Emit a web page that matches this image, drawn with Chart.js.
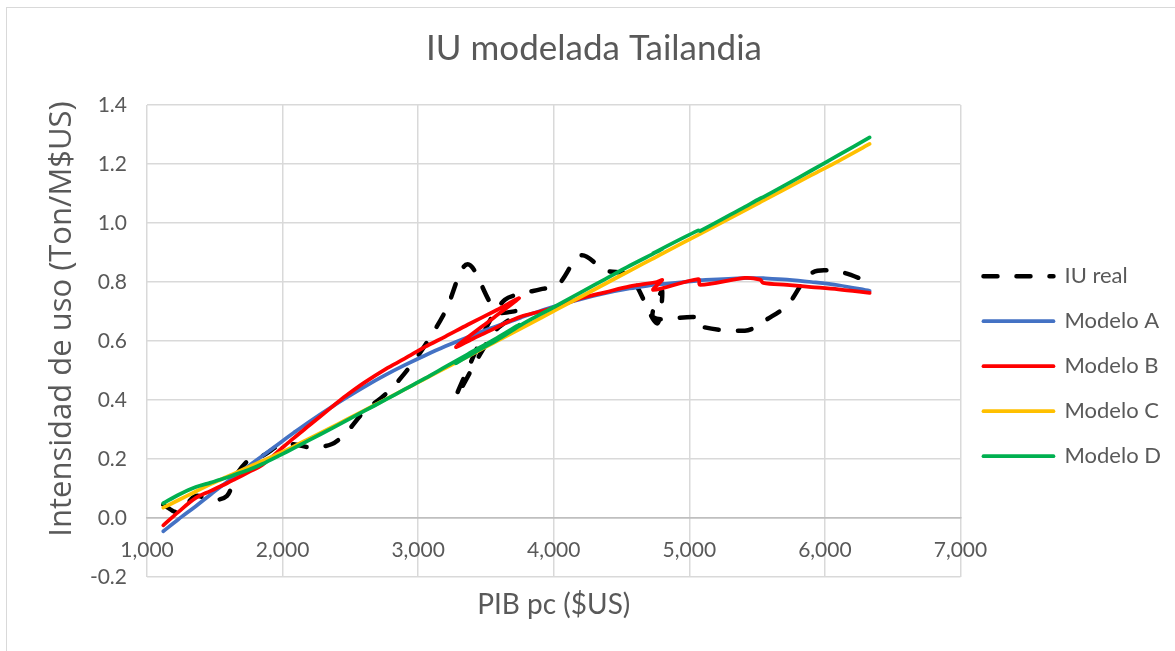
<!DOCTYPE html>
<html>
<head>
<meta charset="utf-8">
<title>IU modelada Tailandia</title>
<script src="https://cdn.jsdelivr.net/npm/chart.js@4.4.1/dist/chart.umd.min.js"></script>
<style>
  html, body { margin: 0; padding: 0; background: #ffffff; overflow: hidden; }
  #frame { position: absolute; left: 6px; top: 7px; width: 1200px; height: 700px; border: 1px solid #d9d9d9; }
  #iuChart { position: absolute; left: 0; top: 0; }
</style>
</head>
<body>
<div id="frame"></div>
<canvas id="iuChart" width="1175" height="651"></canvas>
<script>
// PIB per capita ($US), one value per year, in the order the lines are drawn
const pibPc = [1120, 1230, 1360, 1470, 1590, 1650, 1760, 1850, 1990, 2080,
               2200, 2360, 2470, 2600, 2760, 2900, 3050, 3200, 3365, 3580,
               3745, 3560, 3280, 3400, 3530, 3640, 3760, 3900, 4030, 4200,
               4380, 4560, 4760, 4800, 4735, 5066, 5080, 5410, 5522, 5545,
               5720, 5900, 6100, 6330];

// Intensidad de uso (Ton/M$US)
const iuReal  = [0.045, 0.02, 0.075, 0.06, 0.075, 0.14, 0.20, 0.21, 0.25, 0.25,
                 0.24, 0.25, 0.29, 0.36, 0.42, 0.49, 0.585, 0.70, 0.86, 0.70,
                 0.70, 0.63, 0.41, 0.54, 0.67, 0.74, 0.76, 0.775, 0.79, 0.89,
                 0.84, 0.82, 0.66, 0.77, 0.68, 0.68, 0.65, 0.635, 0.655, 0.665,
                 0.72, 0.83, 0.835, 0.80];
const modeloA = [-0.045, -0.005, 0.04, 0.08, 0.122, 0.143, 0.18, 0.21, 0.258, 0.288,
                 0.327, 0.376, 0.408, 0.444, 0.485, 0.518, 0.551, 0.582, 0.613, 0.65,
                 0.678, 0.647, 0.597, 0.619, 0.642, 0.66, 0.68, 0.702, 0.72, 0.742,
                 0.762, 0.778, 0.792, 0.795, 0.79, 0.805, 0.806, 0.813, 0.813, 0.813,
                 0.808, 0.80, 0.789, 0.77];
const modeloB = [-0.025, 0.02, 0.068, 0.092, 0.118, 0.132, 0.158, 0.18, 0.235, 0.27,
                 0.315, 0.375, 0.415, 0.458, 0.505, 0.54, 0.58, 0.615, 0.655, 0.705,
                 0.745, 0.68, 0.58, 0.607, 0.635, 0.66, 0.683, 0.70, 0.717, 0.745,
                 0.765, 0.785, 0.80, 0.807, 0.773, 0.81, 0.79, 0.814, 0.808, 0.797,
                 0.79, 0.783, 0.775, 0.763];
const modeloC = [0.035, 0.06, 0.09, 0.115, 0.14, 0.152, 0.175, 0.193, 0.222, 0.242,
                 0.27, 0.307, 0.333, 0.364, 0.402, 0.436, 0.472, 0.508, 0.548, 0.60,
                 0.64, 0.595, 0.527, 0.556, 0.588, 0.614, 0.643, 0.677, 0.709, 0.75,
                 0.794, 0.838, 0.886, 0.896, 0.88, 0.96, 0.963, 1.043, 1.07, 1.076,
                 1.118, 1.162, 1.21, 1.268];
const modeloD = [0.05, 0.078, 0.105, 0.12, 0.137, 0.147, 0.165, 0.183, 0.215, 0.236,
                 0.265, 0.303, 0.33, 0.362, 0.401, 0.436, 0.473, 0.512, 0.555, 0.61,
                 0.655, 0.60, 0.525, 0.558, 0.59, 0.62, 0.655, 0.69, 0.722, 0.765,
                 0.81, 0.855, 0.902, 0.912, 0.898, 0.975, 0.973, 1.055, 1.083, 1.088,
                 1.132, 1.178, 1.23, 1.29];

const seriesNames = ['IU real', 'Modelo A', 'Modelo B', 'Modelo C', 'Modelo D'];
const seriesValues = [iuReal, modeloA, modeloB, modeloC, modeloD];

const chartTitle = 'IU modelada Tailandia';
const xTitle = 'PIB pc ($US)';
const yTitle = 'Intensidad de uso (Ton/M$US)';

// line styles, same order as the series
const lineColors = ['#000000', '#4472C4', '#FF0000', '#FFC000', '#00B050'];
const lineWidths = [4.5, 3.75, 3.75, 3.75, 3.75];
const lineDashes = [[14, 19], [], [], [], []];

const textColor = '#595959';

// axis titles are drawn by hand, so they can sit where Excel puts them
const axisTitles = {
    id: 'axisTitles',
    afterDraw(chart) {
        const {ctx, chartArea} = chart;
        ctx.save();
        ctx.fillStyle = textColor;
        ctx.textAlign = 'center';
        ctx.textBaseline = 'middle';
        ctx.font = '28px Lato';
        ctx.fillText(xTitle, (chartArea.left + chartArea.right) / 2, chartArea.bottom + 28);
        ctx.translate(62, (chartArea.top + chartArea.bottom) / 2 - 22);
        ctx.rotate(-Math.PI / 2);
        ctx.font = '31px "Open Sans"';
        ctx.fillText(yTitle, 0, 0);
        ctx.restore();
    }
};

const datasets = seriesNames.map((name, i) => ({
    label: name,
    data: pibPc.map((x, j) => ({x: x, y: seriesValues[i][j]})),
    borderColor: lineColors[i],
    backgroundColor: lineColors[i],
    borderWidth: lineWidths[i],
    borderDash: lineDashes[i],
    borderCapStyle: 'round',
    borderJoinStyle: 'round',
    showLine: true,
    pointRadius: 0,
    tension: 0.33,
    //later series go on top, as in Excel
    order: seriesNames.length - i
}));

//Legend entries take the line look of their dataset (dash and width), not the point look
function lineLegendLabels(chart) {
    const items = Chart.defaults.plugins.legend.labels.generateLabels(chart);
    items.forEach(item => {
        const ds = chart.data.datasets[item.datasetIndex];
        item.strokeStyle = ds.borderColor;
        item.fillStyle = ds.borderColor;
        item.lineWidth = ds.borderWidth;
        item.lineDash = ds.borderDash;
        item.lineCap = 'round';
    });
    return items.sort((a, b) => a.datasetIndex - b.datasetIndex);
}

canvas = document.getElementById('iuChart').getContext('2d');
const config = {
    type: 'scatter',
    data: { datasets: datasets },
    plugins: [axisTitles],
    options: {
        responsive: false,
        animation: false,
        devicePixelRatio: 1,
        layout: { padding: { top: 12, left: 17, right: 4, bottom: 74 } },
        plugins: {
            title: {
                display: true,
                text: chartTitle,
                color: textColor,
                font: { family: 'Lato', size: 35, weight: 'normal' },
                padding: { top: 16, bottom: 35 }
            },
            legend: {
                position: 'right',
                fullSize: false,
                align: 'center',
                title: { display: true, text: '', padding: { top: 36, bottom: 0 } },
                labels: {
                    usePointStyle: true,
                    pointStyle: 'line',
                    pointStyleWidth: 70,
                    padding: 23,
                    color: textColor,
                    font: { family: 'Lato', size: 22 },
                    generateLabels: lineLegendLabels
                }
            },
            tooltip: { enabled: false }
        },
        scales: {
            x: {
                type: 'linear',
                position: { y: 0 },
                min: 1000,
                max: 7000,
                afterFit: (scale) => { scale.height = 0; },
                grid: { color: '#d9d9d9', lineWidth: 1.5, drawTicks: false },
                border: { color: '#bfbfbf', width: 1.5 },
                ticks: {
                    stepSize: 1000,
                    padding: 20,
                    maxRotation: 0,
                    color: textColor,
                    font: { family: 'Lato', size: 21 },
                    callback: (v) => v.toLocaleString('en-US')
                }
            },
            y: {
                min: -0.2,
                max: 1.4,
                afterFit: (scale) => { scale.width = 130; },
                grid: {
                    color: (ctx) => Math.abs(ctx.tick.value) < 1e-9 ? '#bfbfbf' : '#d9d9d9',
                    lineWidth: 1.5,
                    drawTicks: false
                },
                border: { display: false },
                ticks: {
                    stepSize: 0.2,
                    padding: 20,
                    color: textColor,
                    font: { family: 'Lato', size: 21 },
                    callback: (v) => Math.abs(v) < 1e-9 ? '0.0' : v.toFixed(1)
                }
            }
        }
    }
};
var chart = new Chart(canvas, config);
</script>
</body>
</html>
